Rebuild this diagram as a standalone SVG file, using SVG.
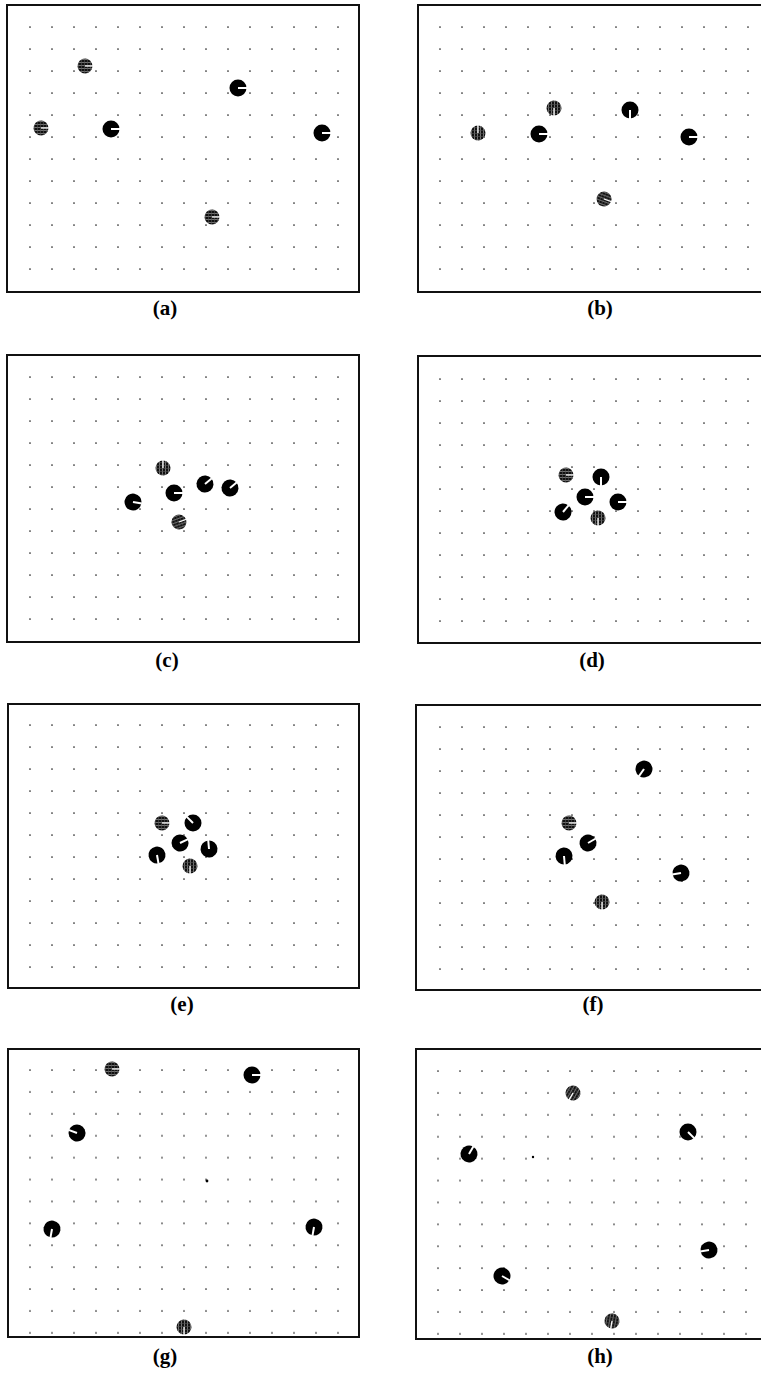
<svg xmlns="http://www.w3.org/2000/svg" xmlns:xlink="http://www.w3.org/1999/xlink" width="761" height="1373" viewBox="0 0 761 1373">
<style>
.frame{fill:#fff;stroke:#111;stroke-width:2}
.lbl{font-family:"Liberation Serif","Times New Roman",serif;font-weight:bold;font-size:21px;text-anchor:middle;fill:#000}
</style>
<defs>
<pattern id="dots" patternUnits="userSpaceOnUse" width="22" height="22">
<circle cx="1" cy="1" r="0.85" fill="#222"/>
</pattern>
<pattern id="dotsg" patternUnits="userSpaceOnUse" width="22" height="21.9">
<circle cx="1" cy="1" r="0.85" fill="#222"/>
</pattern>
<pattern id="hatch" patternUnits="userSpaceOnUse" width="3" height="3">
<rect width="3" height="3" fill="#111"/>
<rect y="2" width="3" height="0.7" fill="#999"/>
<rect x="2" width="0.6" height="3" fill="#555"/>
</pattern>
<g id="rb"><circle r="8.5" fill="#000"/><line x1="0" y1="0" x2="9" y2="0" stroke="#fff" stroke-width="2"/></g>
<g id="rh"><circle r="7.5" fill="url(#hatch)"/><line x1="0" y1="0" x2="8" y2="0" stroke="#fff" stroke-width="1.3"/></g>
</defs>
<rect width="761" height="1373" fill="#fff"/>

<g id="panel-a">
<rect class="frame" x="7" y="5" width="352" height="287"/>
<rect transform="translate(29,26)" width="330" height="264" fill="url(#dots)"/>
<use href="#rh" transform="translate(85,66)"/>
<use href="#rb" transform="translate(238,88)"/>
<use href="#rh" transform="translate(41,128)"/>
<use href="#rb" transform="translate(111,129)"/>
<use href="#rb" transform="translate(322,133)"/>
<use href="#rh" transform="translate(212,217)"/>
<text class="lbl" x="165" y="315">(a)</text>
</g>

<g id="panel-b">
<rect class="frame" x="418" y="5" width="360" height="287"/>
<rect transform="translate(439,26)" width="330" height="264" fill="url(#dots)"/>
<use href="#rh" transform="translate(554,108) rotate(90)"/>
<use href="#rb" transform="translate(630,110) rotate(90)"/>
<use href="#rh" transform="translate(478,133) rotate(-90)"/>
<use href="#rb" transform="translate(539,134)"/>
<use href="#rb" transform="translate(689,137)"/>
<use href="#rh" transform="translate(604,199) rotate(20)"/>
<text class="lbl" x="600" y="315">(b)</text>
</g>

<g id="panel-c">
<rect class="frame" x="7" y="355" width="352" height="287"/>
<rect transform="translate(29,376)" width="330" height="264" fill="url(#dots)"/>
<use href="#rh" transform="translate(163,468) rotate(-90)"/>
<use href="#rb" transform="translate(205,484) rotate(-40)"/>
<use href="#rb" transform="translate(230,488) rotate(-40)"/>
<use href="#rb" transform="translate(174,493)"/>
<use href="#rb" transform="translate(133,502) rotate(10)"/>
<use href="#rh" transform="translate(179,522) rotate(-20)"/>
<text class="lbl" x="167" y="667">(c)</text>
</g>

<g id="panel-d">
<rect class="frame" x="418" y="356" width="360" height="287"/>
<rect transform="translate(439,378)" width="330" height="264" fill="url(#dots)"/>
<use href="#rh" transform="translate(566,475)"/>
<use href="#rb" transform="translate(601,477) rotate(90)"/>
<use href="#rb" transform="translate(585,497)"/>
<use href="#rb" transform="translate(618,502)"/>
<use href="#rb" transform="translate(563,512) rotate(-50)"/>
<use href="#rh" transform="translate(598,518) rotate(90)"/>
<text class="lbl" x="592" y="667">(d)</text>
</g>

<g id="panel-e">
<rect class="frame" x="8" y="704" width="351" height="284"/>
<rect transform="translate(29,724)" width="330" height="264" fill="url(#dots)"/>
<use href="#rh" transform="translate(162,823)"/>
<use href="#rb" transform="translate(193,823) rotate(-135)"/>
<use href="#rb" transform="translate(180,843) rotate(-25)"/>
<use href="#rb" transform="translate(209,849) rotate(-95)"/>
<use href="#rb" transform="translate(157,855) rotate(80)"/>
<use href="#rh" transform="translate(190,866) rotate(90)"/>
<text class="lbl" x="182" y="1011">(e)</text>
</g>

<g id="panel-f">
<rect class="frame" x="416" y="705" width="360" height="285"/>
<rect transform="translate(439,726)" width="330" height="264" fill="url(#dots)"/>
<use href="#rb" transform="translate(644,769) rotate(125)"/>
<use href="#rh" transform="translate(569,823)"/>
<use href="#rb" transform="translate(588,843) rotate(-30)"/>
<use href="#rb" transform="translate(564,856) rotate(85)"/>
<use href="#rb" transform="translate(681,873) rotate(170)"/>
<use href="#rh" transform="translate(602,902) rotate(90)"/>
<text class="lbl" x="593" y="1011">(f)</text>
</g>

<g id="panel-g">
<rect class="frame" x="8" y="1049" width="351" height="288"/>
<rect transform="translate(29,1069)" width="330" height="268" fill="url(#dotsg)"/>
<circle cx="207" cy="1181" r="1.4" fill="#000"/>
<use href="#rh" transform="translate(112,1069)"/>
<use href="#rb" transform="translate(252,1075)"/>
<use href="#rb" transform="translate(77,1133) rotate(-160)"/>
<use href="#rb" transform="translate(52,1229) rotate(100)"/>
<use href="#rb" transform="translate(314,1227) rotate(100)"/>
<use href="#rh" transform="translate(184,1327) rotate(90)"/>
<text class="lbl" x="165" y="1363">(g)</text>
</g>

<g id="panel-h">
<rect class="frame" x="416" y="1049" width="360" height="290"/>
<rect transform="translate(437,1070)" width="330" height="268" fill="url(#dotsg)"/>
<circle cx="533" cy="1157" r="1.2" fill="#000"/>
<use href="#rh" transform="translate(573,1093) rotate(120)"/>
<use href="#rb" transform="translate(688,1132) rotate(45)"/>
<use href="#rb" transform="translate(469,1154) rotate(-60)"/>
<use href="#rb" transform="translate(709,1250) rotate(170)"/>
<use href="#rb" transform="translate(502,1276) rotate(30)"/>
<use href="#rh" transform="translate(612,1321) rotate(100)"/>
<text class="lbl" x="600" y="1363">(h)</text>
</g>
</svg>
